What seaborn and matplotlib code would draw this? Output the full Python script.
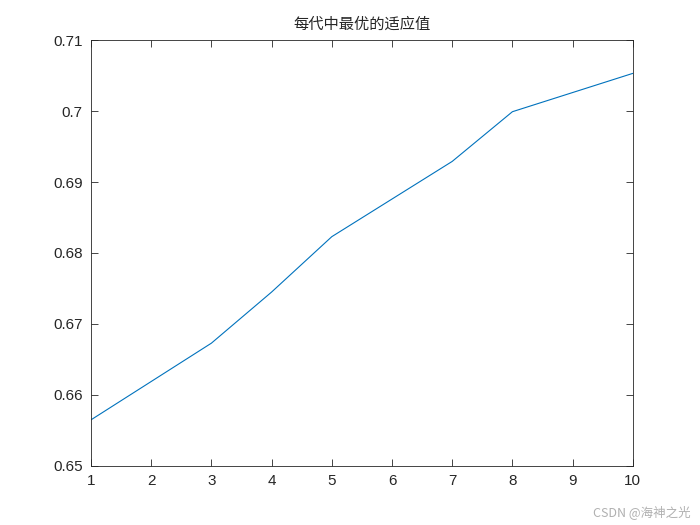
import matplotlib
matplotlib.use("Agg")
import matplotlib.pyplot as plt
import seaborn as sns
import pandas as pd

# 每代中最优的适应值
generaciones = [1, 2, 3, 4, 5, 6, 7, 8, 9, 10]
mejor_fitness = [0.6565, 0.6619, 0.6673, 0.6745, 0.6823, 0.6876, 0.6929, 0.6999, 0.7026, 0.7053]
yticks = [0.65, 0.66, 0.67, 0.68, 0.69, 0.70, 0.71]
ytick_labels = ["0.65", "0.66", "0.67", "0.68", "0.69", "0.7", "0.71"]
titulo = "每代中最优的适应值"
marca = "CSDN @海神之光"

df = pd.DataFrame({"gen": generaciones, "fit": mejor_fitness})

sns.set_theme(style="ticks")
plt.rcParams['font.family'] = ['Liberation Sans', 'Noto Sans CJK SC', 'DejaVu Sans']

fig = plt.figure(figsize=(7, 5.25), dpi=100)
ax = fig.add_axes([0.13, 0.1124, 0.774, 0.8114])
sns.lineplot(data=df, x="gen", y="fit", ax=ax, color="#0072BD", linewidth=0.8)

ax.set_xlim(1, 10)
ax.set_ylim(0.65, 0.71)
ax.set_xticks(generaciones)
ax.set_yticks(yticks)
ax.set_yticklabels(ytick_labels)
ax.set_xlabel("")
ax.set_ylabel("")
ax.tick_params(direction="in", top=True, right=True, length=5, width=0.6,
               labelsize=11, colors="#262626", pad=6)
for s in ax.spines.values():
    s.set_linewidth(0.6)
    s.set_color("#262626")

ax.set_title(titulo, fontsize=11, color="#262626", pad=8,
             family=['Noto Sans CJK SC', 'DejaVu Sans'])
fig.text(0.987, 0.012, marca, ha="right", va="bottom", fontsize=9, color="#b0b0b0",
         family=['Noto Sans CJK SC', 'DejaVu Sans'])

fig.savefig("out.png", dpi=100, facecolor="white")
